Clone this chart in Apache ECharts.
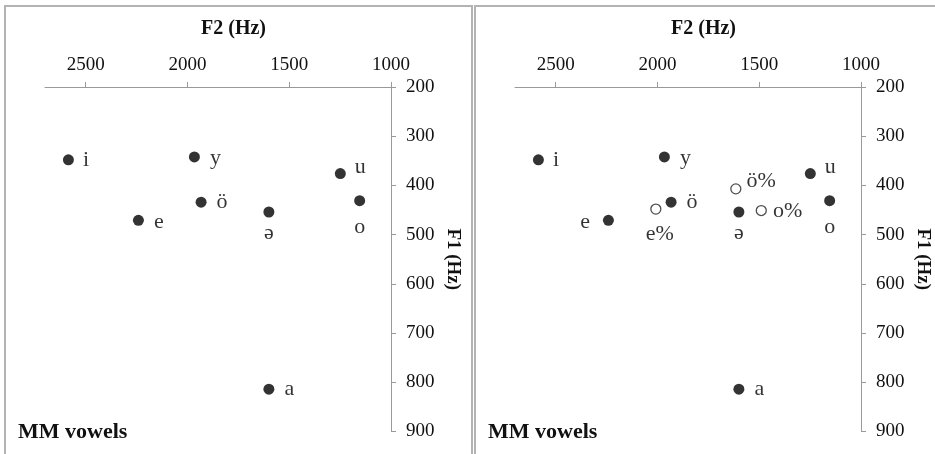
<!DOCTYPE html>
<html>
<head>
<meta charset="utf-8">
<script src="https://cdn.jsdelivr.net/npm/echarts@6/dist/echarts.min.js"></script>
<style>
html,body{margin:0;padding:0;background:#fff;}
#chart{width:935px;height:454px;}
</style>
</head>
<body>
<div id="chart"></div>
<script>
// ---- data ----
const vowels = ['i', 'y', 'u', 'ö', 'o', 'e', 'ə', 'a'];
const vowelF2 = [2585, 1966, 1249, 1933, 1154, 2241, 1600, 1600];
const vowelF1 = [348, 342, 376, 434, 431, 471, 454, 814];

const reducedVowels = ['e%', 'ö%', 'o%'];
const reducedF2 = [2008, 1615, 1490];
const reducedF1 = [448, 407, 451];

const f2Ticks = [1000, 1500, 2000, 2500];
const f1Ticks = [200, 300, 400, 500, 600, 700, 800, 900];
const panelTitle = 'MM vowels';
const xName = 'F2 (Hz)';
const yName = 'F1 (Hz)';

// ---- label placement (style only) ----
const placeLeft = {
  'i': {position: 'right', distance: 9},
  'y': {position: 'right', distance: 10, offset: [0, 1]},
  'u': {position: 'right', distance: 9, offset: [0, -6]},
  'ö': {position: 'right', distance: 10},
  'o': {position: 'bottom', distance: 10},
  'e': {position: 'right', distance: 10, offset: [0, 2]},
  'ə': {position: 'bottom', distance: 5},
  'a': {position: 'right', distance: 10}
};
const placeRight = Object.assign({}, placeLeft, {
  'e': {position: 'left', distance: 13, offset: [0, 2]},
  'e%': {position: 'bottom', distance: 9, offset: [4, 0]},
  'ö%': {position: 'right', distance: 5, offset: [0, -8]},
  'o%': {position: 'right', distance: 6, offset: [0, 1]}
});

const serif = "'Liberation Serif', 'Times New Roman', 'DejaVu Serif', serif";
const axisColor = '#9a9a9a';
const textColor = '#111';

function items(names, xs, ys, place) {
  return names.map((n, i) => ({
    name: n,
    value: [xs[i], ys[i]],
    label: Object.assign({show: true}, place[n] || {})
  }));
}

const panelX = [45, 515];
const gridW = 346, gridTop = 87, gridH = 344.5;

const grids = [], xAxes = [], yAxes = [];
panelX.forEach((px, k) => {
  grids.push({left: px, top: gridTop, width: gridW, height: gridH, containLabel: false});
  xAxes.push({
    type: 'value', gridIndex: k, position: 'top', inverse: true,
    min: 1000, max: 2700, interval: 500,
    name: xName, nameLocation: 'middle', nameGap: 48,
    nameTextStyle: {fontFamily: serif, fontWeight: 'bold', fontSize: 20, color: textColor, padding: [0, 0, 0, 31]},
    axisLine: {show: true, onZero: false, lineStyle: {color: axisColor, width: 1}},
    axisTick: {show: true, inside: false, length: 5, lineStyle: {color: axisColor}, customValues: f2Ticks},
    axisLabel: {fontFamily: serif, fontSize: 19, color: textColor, margin: 12, customValues: f2Ticks,
                formatter: v => String(v)},
    splitLine: {show: false}
  });
  yAxes.push({
    type: 'value', gridIndex: k, position: 'right', inverse: true,
    min: 200, max: 900, interval: 100,
    name: yName, nameLocation: 'middle', nameGap: 52, nameRotate: -90,
    nameTextStyle: {fontFamily: serif, fontWeight: 'bold', fontSize: 19, color: textColor},
    axisLine: {show: true, onZero: false, lineStyle: {color: axisColor, width: 1}},
    axisTick: {show: true, inside: false, length: 5, lineStyle: {color: axisColor}},
    axisLabel: {fontFamily: serif, fontSize: 19, color: textColor, margin: 15, customValues: f1Ticks,
                formatter: v => String(v)},
    splitLine: {show: false}
  });
});

const labelStyle = {fontFamily: serif, fontSize: 22, color: '#000', formatter: '{b}'};
const filled = {color: '#000'};
const open = {color: '#fff', borderColor: '#222', borderWidth: 1.3};

const series = [
  {type: 'scatter', xAxisIndex: 0, yAxisIndex: 0, symbol: 'circle', symbolSize: 11,
   itemStyle: filled, label: labelStyle, silent: true,
   data: items(vowels, vowelF2, vowelF1, placeLeft)},
  {type: 'scatter', xAxisIndex: 1, yAxisIndex: 1, symbol: 'circle', symbolSize: 11,
   itemStyle: filled, label: labelStyle, silent: true,
   data: items(vowels, vowelF2, vowelF1, placeRight)},
  {type: 'scatter', xAxisIndex: 1, yAxisIndex: 1, symbol: 'circle', symbolSize: 10,
   itemStyle: open, label: labelStyle, silent: true,
   data: items(reducedVowels, reducedF2, reducedF1, placeRight)}
];

const chart = echarts.init(document.getElementById('chart'), null, {renderer: 'canvas'});
chart.setOption({
  animation: false,
  backgroundColor: '#fff',
  title: [
    {text: panelTitle, left: 18, top: 421, padding: 0,
     textStyle: {fontFamily: serif, fontWeight: 'bold', fontSize: 22, color: '#111'}},
    {text: panelTitle, left: 488, top: 421, padding: 0,
     textStyle: {fontFamily: serif, fontWeight: 'bold', fontSize: 22, color: '#111'}}
  ],
  graphic: [
    {type: 'rect', shape: {x: 5, y: 6, width: 467, height: 470}, style: {fill: null, stroke: '#b3b3b3', lineWidth: 2}, z: -1},
    {type: 'rect', shape: {x: 475, y: 6, width: 480, height: 470}, style: {fill: null, stroke: '#b3b3b3', lineWidth: 2}, z: -1}
  ],
  grid: grids,
  xAxis: xAxes,
  yAxis: yAxes,
  series: series
});
</script>
</body>
</html>
